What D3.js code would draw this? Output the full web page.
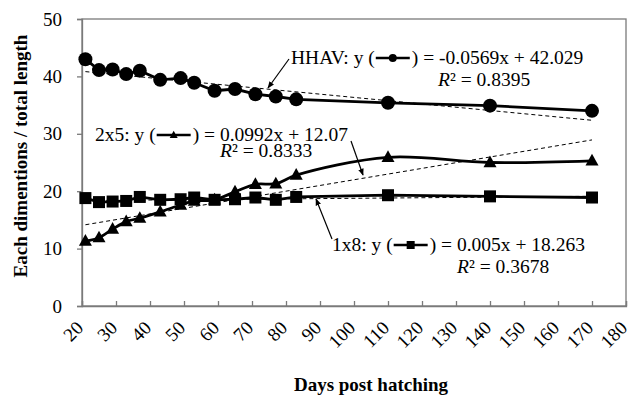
<!DOCTYPE html>
<html>
<head>
<meta charset="utf-8">
<script src="https://cdn.jsdelivr.net/npm/d3@7"></script>
<style>
  body { margin: 0; background: #fff; }
  text { font-family: "Liberation Serif", "Times New Roman", serif; fill: #000; }
</style>
</head>
<body>
<script>
// data
var days = [21, 25, 29, 33, 37, 43, 49, 53, 59, 65, 71, 77, 83, 110, 140, 170];
var hhav = [43.0, 41.1, 41.2, 40.4, 41.0, 39.4, 39.7, 38.9, 37.5, 37.8, 36.9, 36.5, 36.0, 35.4, 34.9, 34.0];
var s2x5 = [11.3, 11.9, 13.4, 14.7, 15.3, 16.4, 17.6, 18.3, 18.5, 19.9, 21.2, 21.3, 22.8, 25.9, 25.0, 25.3];
var s1x8 = [18.8, 18.1, 18.2, 18.3, 19.0, 18.5, 18.6, 18.9, 18.5, 18.6, 18.9, 18.5, 19.0, 19.3, 19.1, 18.9];

var seriesNames = ['HHAV', '2x5', '1x8'];
var slopes = [-0.0569, 0.0992, 0.005];
var intercepts = [42.029, 12.07, 18.263];
var slopeLabels = ['-0.0569x + 42.029', '0.0992x + 12.07', '0.005x + 18.263'];
var r2Labels = ['0.8395', '0.8333', '0.3678'];

var xTicks = d3.range(20, 181, 10);
var yTicks = [0, 10, 20, 30, 40, 50];

var width = 631, height = 398;
var pLeft = 82, pRight = 626, pTop = 19, pBottom = 306;

var svg = d3.select('body').append('svg')
    .attr('width', width)
    .attr('height', height);

var x = d3.scaleLinear().domain([20, 180]).range([pLeft, pRight]);
var y = d3.scaleLinear().domain([0, 50]).range([pBottom, pTop]);

// frame
svg.append('rect')
    .attr('x', pLeft).attr('y', pTop)
    .attr('width', pRight - pLeft).attr('height', pBottom - pTop)
    .attr('fill', 'none').attr('stroke', '#7a7a7a').attr('stroke-width', 1.3);

// y axis
var yAxis = svg.append('g')
    .attr('transform', 'translate(' + pLeft + ',0)')
    .call(d3.axisLeft(y).tickValues(yTicks).tickSize(5).tickPadding(15));
yAxis.select('.domain').attr('stroke', '#7a7a7a').attr('stroke-width', 1.3);
yAxis.selectAll('.tick line').attr('stroke', '#7a7a7a').attr('stroke-width', 1.3);
yAxis.selectAll('text')
    .style('font-family', '"Liberation Serif", serif')
    .style('font-size', '19px');

// x axis, ticks pointing inside
var xAxis = svg.append('g')
    .attr('transform', 'translate(0,' + pBottom + ')')
    .call(d3.axisBottom(x).tickValues(xTicks).tickSize(-5).tickFormat(d3.format('d')));
xAxis.select('.domain').attr('stroke', '#7a7a7a').attr('stroke-width', 1.3);
xAxis.selectAll('.tick line').attr('stroke', '#7a7a7a').attr('stroke-width', 1.3);
xAxis.selectAll('text')
    .style('font-family', '"Liberation Serif", serif')
    .style('font-size', '19px')
    .attr('text-anchor', 'end')
    .attr('dy', null)
    .attr('y', null)
    .attr('transform', 'translate(2,23) rotate(-45)');

// axis titles
svg.append('text')
    .attr('transform', 'translate(27,156) rotate(-90)')
    .attr('text-anchor', 'middle')
    .style('font-weight', 'bold')
    .style('font-size', '19px')
    .text('Each dimentions / total length');

svg.append('text')
    .attr('x', 371).attr('y', 391)
    .attr('text-anchor', 'middle')
    .style('font-weight', 'bold')
    .style('font-size', '19px')
    .text('Days post hatching');

// trend lines
var trendG = svg.append('g');
slopes.forEach(function (m, i) {
    trendG.append('line')
        .attr('x1', x(days[0])).attr('y1', y(m * days[0] + intercepts[i]))
        .attr('x2', x(days[days.length - 1])).attr('y2', y(m * days[days.length - 1] + intercepts[i]))
        .attr('stroke', '#000').attr('stroke-width', 1)
        .attr('stroke-dasharray', '4,3');
});

// series lines
var allSeries = [hhav, s2x5, s1x8];
var curves = [d3.curveLinear, d3.curveCatmullRom, d3.curveLinear];
allSeries.forEach(function (vals, i) {
    var line = d3.line()
        .x(function (d, j) { return x(days[j]); })
        .y(function (d) { return y(d); })
        .curve(curves[i]);
    svg.append('path')
        .datum(vals)
        .attr('d', line)
        .attr('fill', 'none')
        .attr('stroke', '#000')
        .attr('stroke-width', 2.8);
});

// markers
function marker(g, kind, cx, cy, s) {
    if (kind === 0) {
        g.append('circle').attr('cx', cx).attr('cy', cy).attr('r', s / 2).attr('fill', '#000');
    } else if (kind === 1) {
        var h = s * 0.9;
        g.append('path')
            .attr('d', 'M' + cx + ',' + (cy - h * 0.6) + 'L' + (cx + s / 2) + ',' + (cy + h * 0.4) + 'L' + (cx - s / 2) + ',' + (cy + h * 0.4) + 'Z')
            .attr('fill', '#000');
    } else {
        g.append('rect').attr('x', cx - s / 2).attr('y', cy - s / 2).attr('width', s).attr('height', s).attr('fill', '#000');
    }
}
var markG = svg.append('g');
var markSizes = [14, 13, 12];
[s1x8, s2x5, hhav].forEach(function (vals, k) {
    var i = 2 - k;
    vals.forEach(function (v, j) {
        marker(markG, i, x(days[j]), y(v), markSizes[i]);
    });
});

// equation annotations
var eqPos = [[291, 64], [95, 141], [332, 251]];
var r2Pos = [[438, 86], [220, 157], [457, 273]];
var arrows = [[[289, 59], [268, 88]], [[351, 141], [363, 175]], [[332, 239], [316, 199]]];

svg.append('defs').append('marker')
    .attr('id', 'ah')
    .attr('viewBox', '0 0 10 10')
    .attr('refX', 9).attr('refY', 5)
    .attr('markerWidth', 7).attr('markerHeight', 7)
    .attr('markerUnits', 'userSpaceOnUse')
    .attr('orient', 'auto')
    .append('path').attr('d', 'M0,1L10,5L0,9Z').attr('fill', '#000');

seriesNames.forEach(function (name, i) {
    var g = svg.append('g').style('font-size', '19.5px');
    var t1 = g.append('text')
        .attr('x', eqPos[i][0]).attr('y', eqPos[i][1])
        .text(name + ': y (');
    var w1 = t1.node().getComputedTextLength();
    var gx = eqPos[i][0] + w1 + 1;
    var gy = eqPos[i][1] - 6;
    g.append('line')
        .attr('x1', gx).attr('x2', gx + 34)
        .attr('y1', gy).attr('y2', gy)
        .attr('stroke', '#000').attr('stroke-width', 2.5);
    marker(g, i, gx + 17, gy, 8);
    g.append('text')
        .attr('x', gx + 36).attr('y', eqPos[i][1])
        .text(') = ' + slopeLabels[i]);

    var r = g.append('text').attr('x', r2Pos[i][0]).attr('y', r2Pos[i][1]);
    r.append('tspan').style('font-style', 'italic').text('R');
    r.append('tspan').text('² = ' + r2Labels[i]);

    svg.append('line')
        .attr('x1', arrows[i][0][0]).attr('y1', arrows[i][0][1])
        .attr('x2', arrows[i][1][0]).attr('y2', arrows[i][1][1])
        .attr('stroke', '#000').attr('stroke-width', 1.2)
        .attr('marker-end', 'url(#ah)');
});
</script>
</body>
</html>
